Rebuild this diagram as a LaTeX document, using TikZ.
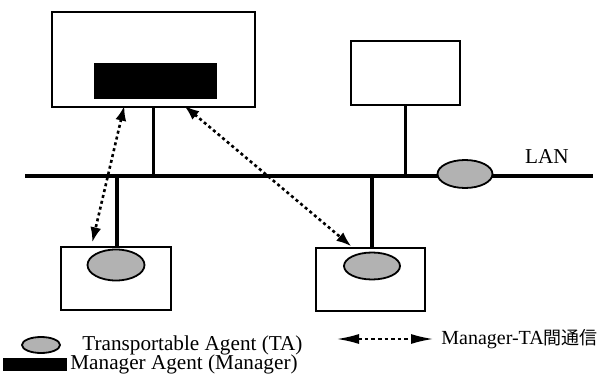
\documentclass[tikz,border=0pt]{standalone}
\usepackage{fontspec}
\setmainfont{Liberation Serif}
\newfontfamily\cjk{Noto Sans CJK JP}
\usetikzlibrary{arrows.meta,calc,shapes.geometric}

\tikzset{
  host/.style={draw,line width=0.7pt,inner sep=0pt},
  mgr/.style={fill=black,inner sep=0pt},
  ta/.style={ellipse,draw,line width=0.9pt,fill=black!30,inner sep=0pt},
  wire/.style={line width=1.6pt},
  msg/.style={line width=1.3pt,dash pattern=on 1.5pt off 1.5pt,
    {Latex[length=7.5pt,width=5.5pt]}-{Latex[length=7.5pt,width=5.5pt]}},
  lbl/.style={font=\fontsize{10.6}{12}\selectfont,inner sep=0pt}
}

\begin{document}
\begin{tikzpicture}[x=0.5pt,y=-0.5pt]
      \useasboundingbox (0,0) rectangle (610,390);
      % LAN
      \coordinate (lanL) at (25,176);
      \coordinate (lanR) at (593,176);
      \draw[wire] (lanL) -- (lanR);
      \node[lbl] (lan) at (547,157) {LAN};
      % hosts
      \node[host,minimum width=101.5pt,minimum height=47.5pt] (mgrhost) at (153.5,59.5) {};
      \node[mgr,minimum width=61.5pt,minimum height=18pt] (manager) at (155.5,81) {};
      \node[host,minimum width=54.5pt,minimum height=32pt] (hostB) at (405.5,73) {};
      \node[host,minimum width=55pt,minimum height=31.5pt] (hostC) at (116,278.5) {};
      \node[host,minimum width=54.5pt,minimum height=31.5pt] (hostD) at (370.5,279.5) {};
      % stems
      \draw[wire] (mgrhost.south) -- (mgrhost.south |- lanL);
      \draw[wire] (hostB.south) -- (hostB.south |- lanL);
      \draw[wire] ([xshift=0.5pt]hostC.north) -- ([xshift=0.5pt]hostC.north |- lanL);
      \draw[wire] ([xshift=0.75pt]hostD.north) -- ([xshift=0.75pt]hostD.north |- lanL);
      % agents
      \node[ta,minimum width=27.5pt,minimum height=14pt] (taLan) at (465,174) {};
      \node[ta,minimum width=28.5pt,minimum height=15.5pt] (taC) at (116,265) {};
      \node[ta,minimum width=28pt,minimum height=13.5pt] (taD) at (372,266) {};
      % Manager-TA
      \draw[msg] ([xshift=36.5pt,yshift=1pt]mgrhost.south west) -- ([xshift=16pt,yshift=2pt]hostC.north west);
      \draw[msg] ([xshift=66.5pt,yshift=1pt]mgrhost.south west) -- ([xshift=18pt,yshift=0.5pt]hostD.north west);
      % legend
      \node[ta,minimum width=19pt,minimum height=8pt] (keyTA) at (41,345) {};
      \node[lbl,anchor=west] (keyTAtext) at (82,345) {Transportable Agent (TA)};
      \node[mgr,minimum width=32pt,minimum height=6.5pt] (keyMgr) at (35,364.5) {};
      \node[lbl,anchor=west] (keyMgrtext) at (70,364.5) {Manager Agent (Manager)};
      \node[lbl,anchor=west,font=\fontsize{10}{12}\selectfont] (keyMsgtext) at (441,339) {Manager-TA{\cjk\fontsize{9}{12}\selectfont 間通信}};
      \coordinate (keyMsg) at (337,339);
      \draw[msg,line width=0.8pt,dash pattern=on 1.8pt off 1.5pt,
        {Latex[length=11pt,width=5pt]}-{Latex[length=11pt,width=5pt]}] (keyMsg) -- ([xshift=-4pt]keyMsgtext.west);
\end{tikzpicture}
\end{document}
